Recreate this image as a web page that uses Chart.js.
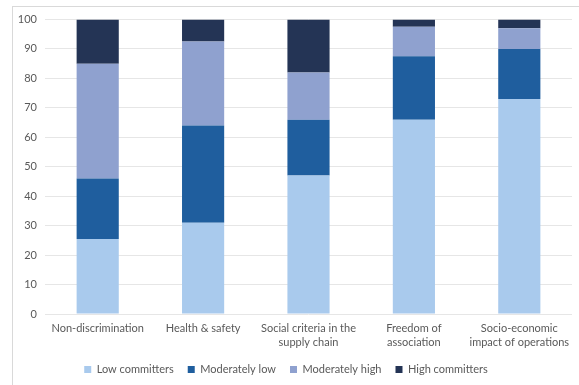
<!DOCTYPE html>
<html>
<head>
<meta charset="utf-8">
<script src="https://cdn.jsdelivr.net/npm/chart.js@4"></script>
<style>
  body { margin: 0; background: #fff; }
  #wrap { position: relative; width: 579px; height: 385px; }
  #frame { position: absolute; left: 12px; top: 6px; width: 570px; height: 390px; border: 1px solid #d9d9d9; box-sizing: border-box; }
  canvas { position: absolute; left: 0; top: 0; }
</style>
</head>
<body>
<div id="wrap">
  <div id="frame"></div>
  <canvas id="chart" width="579" height="385"></canvas>
</div>
<script>
// categories (multi-line labels as in the original)
const categories = [
  "Non-discrimination",
  "Health & safety",
  ["Social criteria in the", "supply chain"],
  ["Freedom of", "association"],
  ["Socio-economic", "impact of operations"]
];

// share of companies per group, %
const lowCommitters = [25.5, 31, 47, 66, 73];
const moderatelyLow = [20.5, 33, 19, 21.5, 17];
const moderatelyHigh = [39, 28.5, 16, 10, 7];
const highCommitters = [15, 7.5, 18, 2.5, 3];

const yTicks = [0, 10, 20, 30, 40, 50, 60, 70, 80, 90, 100];

const textColor = "#595959";
const font = { family: "Lato, 'Open Sans', sans-serif", size: 11 };

function ds(label, data, color) {
  return {
    label: label,
    data: data,
    backgroundColor: color,
    borderWidth: 0,
    barPercentage: 0.4,
    categoryPercentage: 1
  };
}

new Chart(document.getElementById("chart").getContext("2d"), {
  type: "bar",
  data: {
    labels: categories,
    datasets: [
      ds("Low committers", lowCommitters, "#a9caed"),
      ds("Moderately low", moderatelyLow, "#1f5e9e"),
      ds("Moderately high", moderatelyHigh, "#8fa1cf"),
      ds("High committers", highCommitters, "#243455")
    ]
  },
  options: {
    responsive: false,
    animation: false,
    layout: { padding: { left: 0, right: 7, top: 19.5, bottom: 0 } },
    plugins: {
      tooltip: { enabled: false },
      legend: {
        position: "bottom",
        labels: {
          color: textColor,
          font: font,
          boxWidth: 7,
          boxHeight: 7,
          padding: 14
        }
      }
    },
    scales: {
      x: {
        stacked: true,
        afterFit: function (scale) { scale.height = 36; },
        grid: { display: false, drawTicks: false },
        border: { display: false },
        ticks: { color: textColor, font: { family: font.family, size: 11, lineHeight: 1.3 }, maxRotation: 0, padding: 7 }
      },
      y: {
        stacked: true,
        min: 0,
        max: 100,
        afterFit: function (scale) { scale.width = 45; },
        afterBuildTicks: function (scale) {
          scale.ticks = yTicks.map(v => ({ value: v }));
        },
        grid: { color: "#e6e6e6", drawTicks: false },
        border: { display: false },
        ticks: { color: textColor, font: font, padding: 8 }
      }
    }
  }
});
</script>
</body>
</html>
